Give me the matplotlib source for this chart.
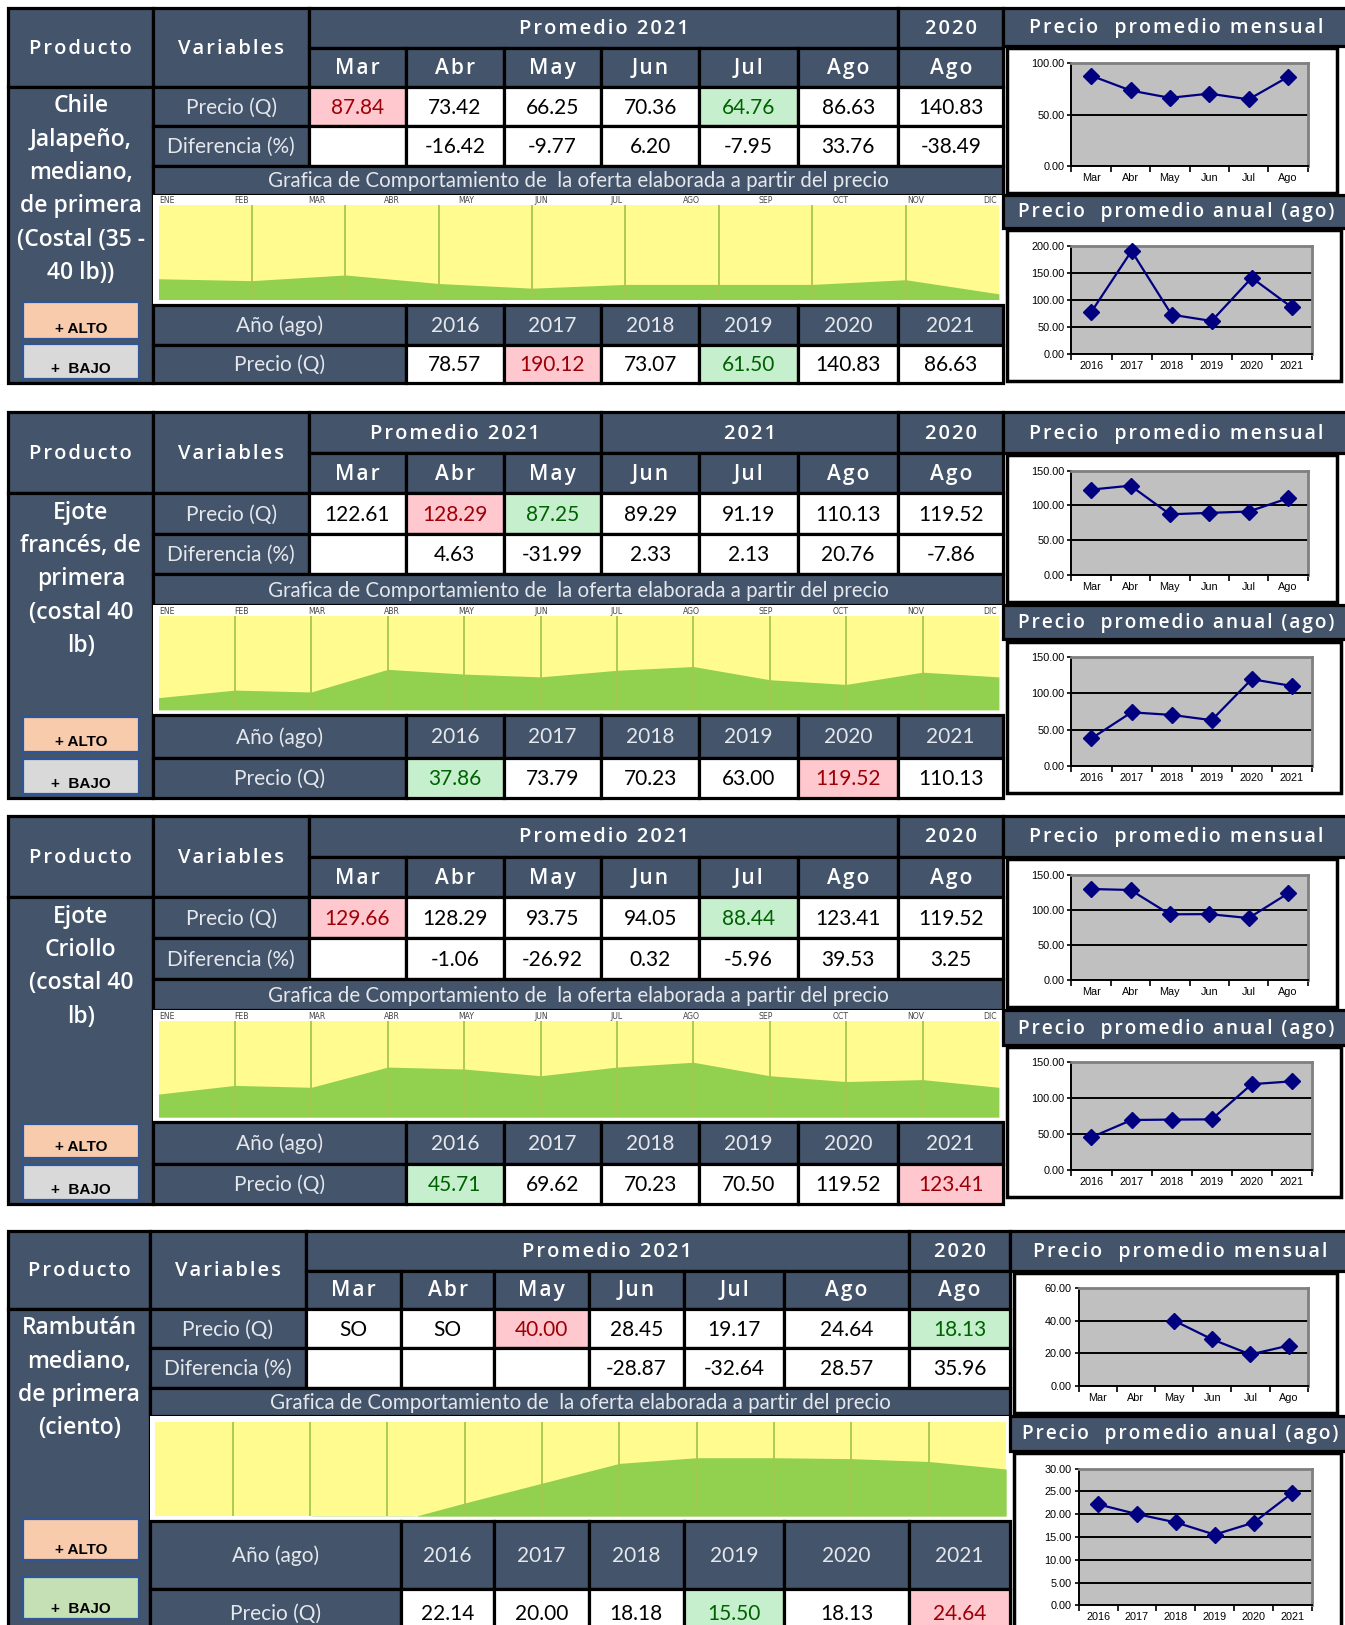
import numpy as np
import matplotlib.pyplot as plt
from matplotlib.patches import Rectangle

# ---------------- datos ----------------
meses = ["Mar", "Abr", "May", "Jun", "Jul", "Ago"]
anios = ["2016", "2017", "2018", "2019", "2020", "2021"]
meses_oferta = ["ENE", "FEB", "MAR", "ABR", "MAY", "JUN", "JUL", "AGO", "SEP", "OCT", "NOV", "DIC"]

# Chile jalapeño  (ultimo valor = Ago 2020)
chile_nombre = "Chile\nJalapeño,\nmediano,\nde primera\n(Costal (35 -\n40 lb))"
chile_precio = [87.84, 73.42, 66.25, 70.36, 64.76, 86.63, 140.83]
chile_dif = [None, -16.42, -9.77, 6.20, -7.95, 33.76, -38.49]
chile_anual = [78.57, 190.12, 73.07, 61.50, 140.83, 86.63]
chile_oferta = [0.22, 0.20, 0.26, 0.17, 0.12, 0.16, 0.16, 0.16, 0.21, 0.06]

# Ejote frances
frances_nombre = "Ejote\nfrancés, de\nprimera\n(costal 40\nlb)"
frances_precio = [122.61, 128.29, 87.25, 89.29, 91.19, 110.13, 119.52]
frances_dif = [None, 4.63, -31.99, 2.33, 2.13, 20.76, -7.86]
frances_anual = [37.86, 73.79, 70.23, 63.00, 119.52, 110.13]
frances_oferta = [0.13, 0.21, 0.19, 0.43, 0.38, 0.35, 0.42, 0.46, 0.32, 0.27, 0.40, 0.35]

# Ejote criollo
criollo_nombre = "Ejote\nCriollo\n(costal 40\nlb)"
criollo_precio = [129.66, 128.29, 93.75, 94.05, 88.44, 123.41, 119.52]
criollo_dif = [None, -1.06, -26.92, 0.32, -5.96, 39.53, 3.25]
criollo_anual = [45.71, 69.62, 70.23, 70.50, 119.52, 123.41]
criollo_oferta = [0.24, 0.33, 0.31, 0.52, 0.50, 0.43, 0.52, 0.57, 0.43, 0.37, 0.39, 0.31]

# Rambutan (None = SO, sin oferta)
rambutan_nombre = "Rambután\nmediano,\nde primera\n(ciento)"
rambutan_precio = [None, None, 40.00, 28.45, 19.17, 24.64, 18.13]
rambutan_dif = [None, None, None, -28.87, -32.64, 28.57, 35.96]
rambutan_anual = [22.14, 20.00, 18.18, 15.50, 18.13, 24.64]
rambutan_oferta = [0.0, 0.0, 0.0, -0.08, 0.14, 0.35, 0.56, 0.62, 0.62, 0.61, 0.58, 0.50]

# indices resaltados: (alto mensual, bajo mensual, alto anual, bajo anual)
chile_marcas = (0, 4, 1, 3)
frances_marcas = (1, 2, 4, 0)
criollo_marcas = (0, 4, 5, 0)
rambutan_marcas = (2, 6, 5, 3)

productos = [
    dict(nombre=chile_nombre, precio=chile_precio, dif=chile_dif, anual=chile_anual,
         oferta=chile_oferta, marcas=chile_marcas, ymes=(100, 50), yanual=(200, 50)),
    dict(nombre=frances_nombre, precio=frances_precio, dif=frances_dif, anual=frances_anual,
         oferta=frances_oferta, marcas=frances_marcas, ymes=(150, 50), yanual=(150, 50)),
    dict(nombre=criollo_nombre, precio=criollo_precio, dif=criollo_dif, anual=criollo_anual,
         oferta=criollo_oferta, marcas=criollo_marcas, ymes=(150, 50), yanual=(150, 50)),
    dict(nombre=rambutan_nombre, precio=rambutan_precio, dif=rambutan_dif, anual=rambutan_anual,
         oferta=rambutan_oferta, marcas=rambutan_marcas, ymes=(60, 20), yanual=(30, 5)),
]

# ---------------- layout (pixeles de la imagen) ----------------
W, H = 1298, 1568
cols_a = [8, 148, 298, 392, 486, 580, 675, 770, 867, 968]
cols_b = [8, 145, 295, 387, 477, 568, 660, 757, 877, 975]
paneles = [
    dict(cols=cols_a, rows=[8, 46, 84, 122, 160, 188, 294, 333, 370],
         grupos=[("Promedio 2021", 2, 8), ("2020", 8, 9)],
         alto=(291, 327), bajo=(332, 366), bajo_fc="#D9D9D9",
         derecha=[(8, 44), (46, 186), (188, 220), (222, 368)], etiquetas=True),
    dict(cols=cols_a, rows=[398, 437, 476, 515, 554, 584, 690, 731, 770],
         grupos=[("Promedio 2021", 2, 5), ("2021", 5, 8), ("2020", 8, 9)],
         alto=(692, 726), bajo=(732, 766), bajo_fc="#D9D9D9",
         derecha=[(398, 437), (439, 581), (584, 617), (619, 765)], etiquetas=True),
    dict(cols=cols_a, rows=[787, 827, 866, 905, 945, 975, 1083, 1123, 1162],
         grupos=[("Promedio 2021", 2, 8), ("2020", 8, 9)],
         alto=(1085, 1117), bajo=(1124, 1158), bajo_fc="#D9D9D9",
         derecha=[(787, 827), (829, 972), (975, 1008), (1010, 1155)], etiquetas=True),
    dict(cols=cols_b, rows=[1188, 1226, 1263, 1301, 1339, 1366, 1468, 1533, 1580],
         grupos=[("Promedio 2021", 2, 8), ("2020", 8, 9)],
         alto=(1466, 1505), bajo=(1522, 1562), bajo_fc="#C5E0B4",
         derecha=[(1188, 1226), (1228, 1363), (1366, 1400), (1402, 1575)], etiquetas=False),
]

DARK = "#44546A"
PINK, PINK_TXT = "#FFC7CE", "#9C0006"
GREEN, GREEN_TXT = "#C6EFCE", "#006100"
LIGHT = "#E4E7EC"
HEAD = ["Open Sans", "DejaVu Sans"]
VAL = "Lato"

fig = plt.figure(figsize=(13.45, 16.25), dpi=100)
ax = fig.add_axes([0, 0, 1, 1])
ax.set_xlim(0, W)
ax.set_ylim(H, 0)
ax.axis("off")


def frac(x0, y0, x1, y1):
    return [x0 / W, 1 - y1 / H, (x1 - x0) / W, (y1 - y0) / H]


def esp(s):
    # letras un poco separadas, como en los encabezados del original
    return "\n".join("\u200a".join(line) for line in s.split("\n"))


def cell(x0, y0, x1, y1, fc=DARK, txt="", color="white", size=15, family=VAL, weight="normal"):
    ax.add_patch(Rectangle((x0, y0), x1 - x0, y1 - y0, facecolor=fc, edgecolor="black", lw=2.3))
    if txt:
        ax.text((x0 + x1) / 2, (y0 + y1) / 2 + 1, txt, color=color, fontsize=size, family=family,
                fontweight=weight, ha="center", va="center")


def head(x0, y0, x1, y1, txt, size=14.5):
    cell(x0, y0, x1, y1, txt=esp(txt), family=HEAD, size=size, weight="semibold")


def fmt(v):
    return "SO" if v is None else f"{v:.2f}"


def mini(x0, y0, x1, y1, cats, vals, ymax, step):
    ax.add_patch(Rectangle((x0, y0), x1 - x0, y1 - y0, facecolor="white", edgecolor="black", lw=2.5))
    a = fig.add_axes(frac(x0 + 62, y0 + 15, x1 - 28, y1 - 26))
    a.set_facecolor("#C0C0C0")
    v = np.array([np.nan if x is None else x for x in vals], dtype=float)
    a.plot(range(len(cats)), v, color="#000080", lw=1.6, marker="D", ms=8, clip_on=False, zorder=3)
    a.set_xlim(-0.5, len(cats) - 0.5)
    a.set_ylim(0, ymax)
    yt = np.arange(0, ymax + step / 2, step)
    a.set_yticks(yt)
    a.set_yticklabels([f"{t:.2f}" for t in yt], fontsize=7.8, family="Liberation Sans")
    a.yaxis.grid(True, color="black", lw=1.4)
    a.set_axisbelow(True)
    a.set_xticks(range(len(cats)))
    a.set_xticklabels(cats, fontsize=7.8, family="Liberation Sans")
    a.set_xticks(np.arange(-0.5, len(cats), 1), minor=True)
    a.tick_params(axis="x", which="major", length=0, pad=5)
    a.tick_params(axis="x", which="minor", length=4, width=1.2, direction="out")
    a.tick_params(axis="y", length=3, width=1.2, direction="out", pad=2)
    for s in ["left", "bottom"]:
        a.spines[s].set_linewidth(1.4)
    for s in ["top", "right"]:
        a.spines[s].set_color("#7F7F7F")
        a.spines[s].set_linewidth(2)


def oferta(x0, y0, x1, y1, vals, etiquetas):
    ax.add_patch(Rectangle((x0, y0), x1 - x0, y1 - y0, facecolor="white", edgecolor="none"))
    top = y0 + (10 if etiquetas else 6)
    a = fig.add_axes(frac(x0 + 5, top, x1 - 4, y1 - 5))
    a.set_facecolor("#FFFB8F")
    x = np.arange(len(vals))
    a.fill_between(x, 0, vals, color="#92D050", lw=0)
    for xi in x[1:-1]:
        a.axvline(xi, color="#A5C84B", lw=1.3)
    a.set_xlim(0, len(vals) - 1)
    a.set_ylim(0, 1)
    a.set_xticks([])
    a.set_yticks([])
    for s in a.spines.values():
        s.set_visible(False)
    if etiquetas:
        for i, m in enumerate(meses_oferta):
            a.text(0.01 + i * 0.98 / 11, 1.0, m, transform=a.transAxes, fontsize=5.6,
                   color="#444444", ha="center", va="bottom", family="DejaVu Sans")


for g, d in zip(paneles, productos):
    c, r = g["cols"], g["rows"]
    head(c[0], r[0], c[1], r[2], "Producto")
    head(c[1], r[0], c[2], r[2], "Variables")
    for lab, i0, i1 in g["grupos"]:
        head(c[i0], r[0], c[i1], r[1], lab)
    for i, m in enumerate(meses + ["Ago"]):
        head(c[2 + i], r[1], c[3 + i], r[2], m, size=15)

    # nombre del producto
    cell(c[0], r[2], c[1], r[8])
    ax.text((c[0] + c[1]) / 2, r[2] + 7, d["nombre"], color="white", fontsize=16.5,
            family=HEAD, fontweight="semibold", ha="center", va="top", linespacing=1.52)

    alto_m, bajo_m, alto_a, bajo_a = d["marcas"]
    cell(c[1], r[2], c[2], r[3], txt="Precio (Q)", color=LIGHT)
    cell(c[1], r[3], c[2], r[4], txt="Diferencia (%)", color=LIGHT)
    for i in range(7):
        fc, tc = "white", "black"
        if i == alto_m:
            fc, tc = PINK, PINK_TXT
        elif i == bajo_m:
            fc, tc = GREEN, GREEN_TXT
        cell(c[2 + i], r[2], c[3 + i], r[3], fc=fc, txt=fmt(d["precio"][i]), color=tc)
        dv = d["dif"][i]
        cell(c[2 + i], r[3], c[3 + i], r[4], fc="white", txt="" if dv is None else f"{dv:.2f}",
             color="black")

    cell(c[1], r[4], c[-1], r[5],
         txt="Grafica de Comportamiento de  la oferta elaborada a partir del precio",
         color=LIGHT, size=14.8)
    oferta(c[1], r[5], c[-1], r[6], d["oferta"], g["etiquetas"])

    cell(c[1], r[6], c[3], r[7], txt="Año (ago)", color=LIGHT)
    cell(c[1], r[7], c[3], r[8], txt="Precio (Q)", color=LIGHT)
    for i in range(6):
        cell(c[3 + i], r[6], c[4 + i], r[7], txt=anios[i], color=LIGHT)
        fc, tc = "white", "black"
        if i == alto_a:
            fc, tc = PINK, PINK_TXT
        elif i == bajo_a:
            fc, tc = GREEN, GREEN_TXT
        cell(c[3 + i], r[7], c[4 + i], r[8], fc=fc, txt=f"{d['anual'][i]:.2f}", color=tc)

    # botones
    for (yy0, yy1), lab, fc in [(g["alto"], "+ ALTO", "#F8CBAD"), (g["bajo"], "+  BAJO", g["bajo_fc"])]:
        ax.add_patch(Rectangle((22, yy0), 112, yy1 - yy0, facecolor=fc, edgecolor="#2F5597", lw=1.6))
        ax.text(78, yy1 - 3, lab, fontsize=11, fontweight="bold", family="Liberation Sans",
                ha="center", va="bottom", color="black")

    # panel derecho
    rx0 = c[-1]
    (t1a, t1b), (b1a, b1b), (t2a, t2b), (b2a, b2b) = g["derecha"]
    head(rx0, t1a, W + 5, t1b, "Precio  promedio mensual", size=14)
    head(rx0, t2a, W + 5, t2b, "Precio  promedio anual (ago)", size=13.8)
    mini(rx0 + 4, b1a, W - 8, b1b, meses, d["precio"][:6], *d["ymes"])
    mini(rx0 + 4, b2a, W - 4, b2b, anios, d["anual"], *d["yanual"])

fig.savefig("out.png", dpi=100)
